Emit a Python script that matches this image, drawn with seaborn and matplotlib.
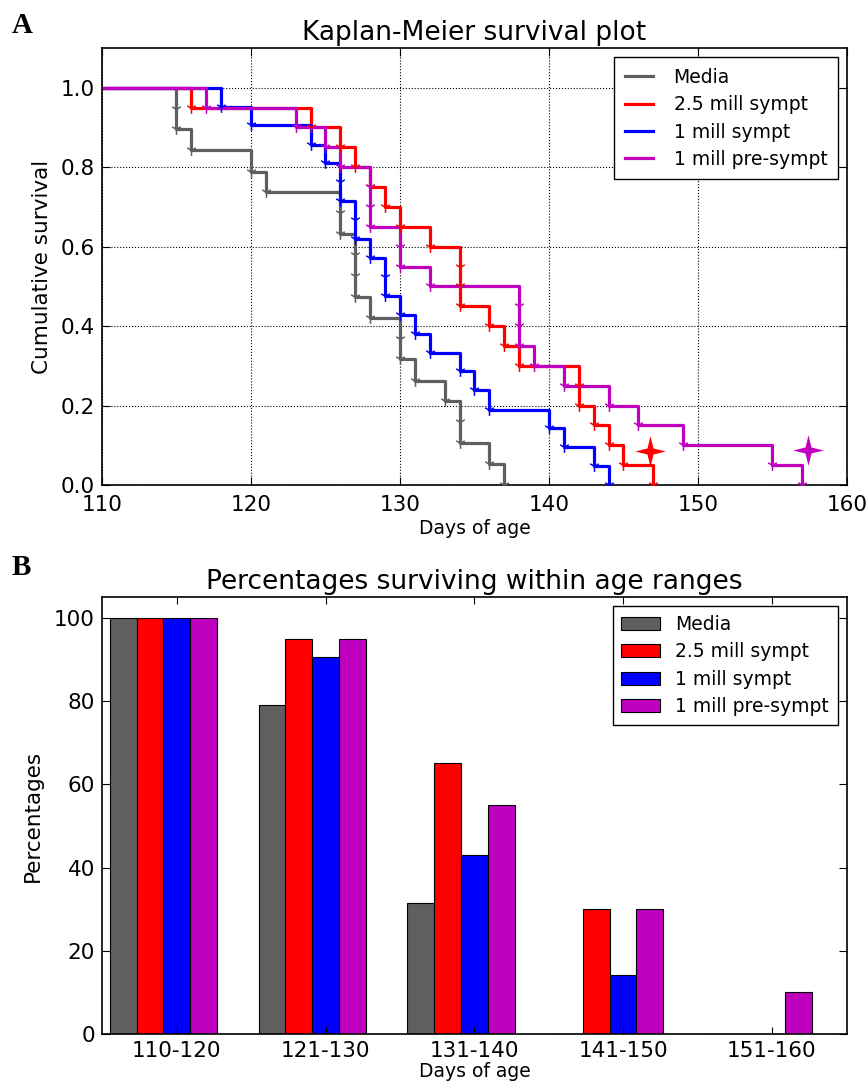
import numpy as np
import pandas as pd
import matplotlib
matplotlib.use("Agg")
import matplotlib.pyplot as plt
from matplotlib.path import Path
import seaborn as sns

plt.rcParams['font.family'] = ['DejaVu Sans']

# ---- panel A: Kaplan-Meier event points (day of death, survival after it)
groups = ["Media", "2.5 mill sympt", "1 mill sympt", "1 mill pre-sympt"]
colors = ["#5f5f5f", "#ff0000", "#0000ff", "#bf00bf"]

media_days = [115, 115, 116, 120, 121, 126, 126, 127, 127, 127, 128, 130, 130, 131, 133, 134, 134, 136, 137]
media_surv = [0.947, 0.895, 0.842, 0.789, 0.737, 0.684, 0.632, 0.579, 0.526, 0.474,
              0.421, 0.368, 0.316, 0.263, 0.211, 0.158, 0.105, 0.053, 0.0]

red_days = [116, 124, 126, 127, 128, 129, 130, 132, 134, 134, 134, 136, 137, 138, 142, 142, 143, 144, 145, 147]
red_surv = [0.95, 0.90, 0.85, 0.80, 0.75, 0.70, 0.65, 0.60, 0.55, 0.50,
            0.45, 0.40, 0.35, 0.30, 0.25, 0.20, 0.15, 0.10, 0.05, 0.0]

blue_days = [118, 120, 124, 125, 126, 126, 127, 127, 128, 129, 129, 130, 131, 132, 134, 135, 136, 140, 141, 143, 144]
blue_surv = [0.952, 0.905, 0.857, 0.810, 0.762, 0.714, 0.667, 0.619, 0.571, 0.524, 0.476,
             0.429, 0.381, 0.333, 0.286, 0.238, 0.190, 0.143, 0.095, 0.048, 0.0]

purple_days = [117, 123, 125, 126, 128, 128, 128, 130, 130, 132, 138, 138, 138, 139, 141, 144, 146, 149, 155, 157]
purple_surv = [0.95, 0.90, 0.85, 0.80, 0.75, 0.70, 0.65, 0.60, 0.55, 0.50,
               0.45, 0.40, 0.35, 0.30, 0.25, 0.20, 0.15, 0.10, 0.05, 0.0]

# star markers near the end of two curves
star_x = [146.8, 157.4]
star_y = [0.085, 0.088]
star_colors = ["#ff0000", "#bf00bf"]

# ---- panel B: percentages surviving within age ranges
age_ranges = ["110-120", "121-130", "131-140", "141-150", "151-160"]
media_pct = [100, 79, 31.6, 0, 0]
red_pct = [100, 95, 65, 30, 0]
blue_pct = [100, 90.5, 42.9, 14.3, 0]
purple_pct = [100, 95, 55, 30, 10]

# thin four-pointed star marker
ang = np.deg2rad(np.arange(0, 360, 45) + 90)
rad = np.array([1.0, 0.28] * 4)
star_verts = np.column_stack([rad * np.cos(ang), rad * np.sin(ang)])
star_verts = np.vstack([star_verts, star_verts[:1]])
star_marker = Path(star_verts, [Path.MOVETO] + [Path.LINETO] * 7 + [Path.CLOSEPOLY])

fig = plt.figure(figsize=(8.68, 10.88), dpi=100)
ax1 = fig.add_axes([0.1175, 0.5542, 0.8583, 0.4017])
ax2 = fig.add_axes([0.1175, 0.0496, 0.8583, 0.4017])

curves = [(media_days, media_surv), (red_days, red_surv),
          (blue_days, blue_surv), (purple_days, purple_surv)]
for (days, surv), name, c in zip(curves, groups, colors):
    xs = [110] + days
    ys = [1.0] + surv
    sns.lineplot(x=xs, y=ys, estimator=None, sort=False, drawstyle="steps-post",
                 color=c, linewidth=2.3, label=name, ax=ax1)
    sns.scatterplot(x=days, y=surv, marker="1", color=c, s=60, linewidth=1.1,
                    ax=ax1, legend=False, zorder=3)

for sx, sy, sc in zip(star_x, star_y, star_colors):
    ax1.plot(sx, sy, marker=star_marker, color=sc, markersize=22,
             markeredgewidth=0, linestyle="none")

ax1.set_xlim(110, 160)
ax1.set_ylim(0, 1.1)
ax1.set_yticks([0.0, 0.2, 0.4, 0.6, 0.8, 1.0])
ax1.set_xticks([110, 120, 130, 140, 150, 160])
ax1.grid(True, linestyle=":", color="black", linewidth=0.8)
ax1.set_title("Kaplan-Meier survival plot", fontsize=19, pad=6)
ax1.set_xlabel("Days of age", fontsize=13.5, labelpad=3)
ax1.set_ylabel("Cumulative survival", fontsize=15.5, labelpad=6)
ax1.legend(loc="upper right", fontsize=13.5, frameon=True, fancybox=False,
           edgecolor="black", framealpha=1, handlelength=1.5, handletextpad=1.1,
           borderpad=0.55, labelspacing=0.45)

# ---- bar chart
df = pd.DataFrame({
    "range": age_ranges * 4,
    "pct": media_pct + red_pct + blue_pct + purple_pct,
    "group": np.repeat(groups, len(age_ranges)),
})
sns.barplot(data=df, x="range", y="pct", hue="group", hue_order=groups,
            palette=colors, width=0.72, gap=0, edgecolor="black", linewidth=0.8,
            saturation=1, ax=ax2)
ax2.set_xlim(-0.413, 4.595)
ax2.set_ylim(0, 105)
ax2.set_yticks([0, 20, 40, 60, 80, 100])
ax2.set_xticks(np.arange(len(age_ranges)) + 0.09)
ax2.set_xticklabels(age_ranges)
ax2.set_title("Percentages surviving within age ranges", fontsize=19, pad=6)
ax2.set_xlabel("Days of age", fontsize=13.5, labelpad=1)
ax2.set_ylabel("Percentages", fontsize=15.5, labelpad=8)
ax2.legend(loc="upper right", fontsize=13.5, frameon=True, fancybox=False,
           edgecolor="black", framealpha=1, handlelength=2.1, handletextpad=0.8,
           borderpad=0.45, labelspacing=0.45)

for ax in (ax1, ax2):
    ax.tick_params(direction="in", top=True, right=True, length=6, labelsize=15.5)
    ax.tick_params(axis="y", pad=5)
    for sp in ax.spines.values():
        sp.set_color("black")
        sp.set_linewidth(1.2)
ax1.tick_params(axis="x", pad=7)
ax2.tick_params(axis="x", pad=5, length=5)

fig.text(0.013, 0.977, "A", family="Liberation Serif", weight="bold", fontsize=21, va="center")
fig.text(0.013, 0.478, "B", family="Liberation Serif", weight="bold", fontsize=21, va="center")

fig.savefig("out.png", dpi=100)
